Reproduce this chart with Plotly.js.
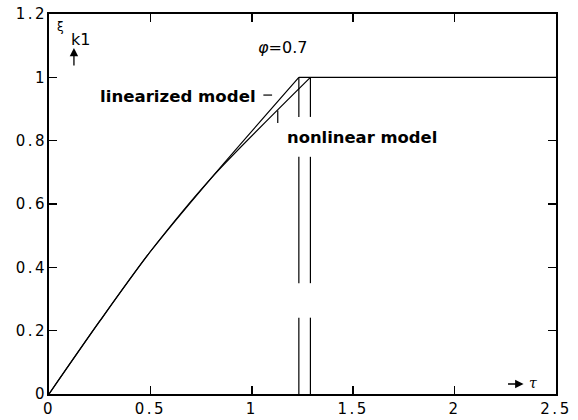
<!DOCTYPE html>
<html>
<head>
<meta charset="utf-8">
<script src="https://cdn.plot.ly/plotly-3.0.1.min.js"></script>
<style>
  html, body { margin: 0; padding: 0; background: #fff; }
  #chart { width: 578px; height: 420px; }
  #chart .xtick text, #chart .ytick text { letter-spacing: 2.5px; }
</style>
</head>
<body>
<div id="chart"></div>
<script>
// Step response of the state variable xi_k1 for phi = 0.7
const tauLinearized = [0, 0.25, 0.5, 0.8, 1.232];
const xiLinearized  = [0, 0.23, 0.45, 0.682, 1.0];

const tauNonlinear = [0, 0.25, 0.5, 0.8, 1.289];
const xiNonlinear  = [0, 0.23, 0.45, 0.682, 1.0];

// Saturated level after the switching instant
const tauEnd = 2.5;
const xiSaturated = 1.0;

// Switching instants (broken vertical markers)
const switchLinearized = 1.232;
const switchNonlinear  = 1.289;
const switchSegments   = [1.0, 0.875, null, 0.749, 0.35, null, 0.241, 0];

// Leader lines from the labels to the curves
const leaderLinX = [1.057, 1.1];
const leaderLinY = [0.944, 0.944];
const leaderNonX = [1.128, 1.128];
const leaderNonY = [0.895, 0.856];

const xTicks = [0, 0.5, 1, 1.5, 2, 2.5];
const yTicks = [0, 0.2, 0.4, 0.6, 0.8, 1, 1.2];

const lineStyle = { color: '#000', width: 1.2 };
const curveStyle = { color: '#000', width: 1.2, shape: 'spline', smoothing: 0.8 };

const traces = [
  { x: tauLinearized, y: xiLinearized, mode: 'lines', line: curveStyle },
  { x: tauNonlinear, y: xiNonlinear, mode: 'lines', line: curveStyle },
  { x: [switchLinearized, tauEnd], y: [xiSaturated, xiSaturated], mode: 'lines', line: lineStyle },
  { x: switchSegments.map(v => v === null ? null : switchLinearized), y: switchSegments,
    mode: 'lines', line: lineStyle, connectgaps: false },
  { x: switchSegments.map(v => v === null ? null : switchNonlinear), y: switchSegments,
    mode: 'lines', line: lineStyle, connectgaps: false },
  { x: leaderLinX, y: leaderLinY, mode: 'lines', line: lineStyle },
  { x: leaderNonX, y: leaderNonY, mode: 'lines', line: lineStyle }
];

const axisCommon = {
  showgrid: false,
  zeroline: false,
  showline: true,
  linecolor: '#000',
  linewidth: 2,
  mirror: 'ticks',
  ticks: 'inside',
  ticklen: 8,
  tickwidth: 1.5,
  tickcolor: '#000',
  tickfont: { family: 'DejaVu Sans, sans-serif', size: 15, color: '#000' }
};

const layout = {
  width: 578,
  height: 420,
  margin: { l: 49, r: 22, t: 14, b: 26 },
  paper_bgcolor: '#fff',
  plot_bgcolor: '#fff',
  showlegend: false,
  xaxis: Object.assign({}, axisCommon, {
    range: [0, 2.5], tickmode: 'array', tickvals: xTicks, ticktext: xTicks.map(String)
  }),
  yaxis: Object.assign({}, axisCommon, {
    range: [0, 1.2], tickmode: 'array', tickvals: yTicks, ticktext: yTicks.map(String),
    ticklabelstandoff: -3
  }),
  annotations: [
    { x: 0.638, y: 0.938, xref: 'x', yref: 'y', showarrow: false,
      text: '<b>linearized model</b>',
      font: { family: 'DejaVu Sans, sans-serif', size: 16.6, color: '#000' } },
    { x: 1.542, y: 0.811, xref: 'x', yref: 'y', showarrow: false,
      text: '<b>nonlinear model</b>',
      font: { family: 'DejaVu Sans, sans-serif', size: 16.4, color: '#000' } },
    { x: 1.15, y: 1.093, xref: 'x', yref: 'y', showarrow: false,
      text: '<i>φ</i>=0.7',
      font: { family: 'DejaVu Sans, sans-serif', size: 16, color: '#000' } },
    { x: 0.059, y: 1.158, xref: 'x', yref: 'y', showarrow: false,
      text: 'ξ',
      font: { family: 'DejaVu Sans, sans-serif', size: 12, color: '#000' } },
    { x: 0.155, y: 1.118, xref: 'x', yref: 'y', showarrow: false,
      text: 'k1',
      font: { family: 'DejaVu Sans, sans-serif', size: 16, color: '#000' } },
    { x: 0.123, y: 1.093, xref: 'x', yref: 'y', ax: 0.123, ay: 1.033,
      axref: 'x', ayref: 'y', text: '', showarrow: true,
      arrowhead: 2, arrowsize: 1.3, arrowwidth: 1.3, arrowcolor: '#000' },
    { x: 2.34, y: 0.0316, xref: 'x', yref: 'y', ax: 2.256, ay: 0.0316,
      axref: 'x', ayref: 'y', text: '', showarrow: true,
      arrowhead: 2, arrowsize: 1.3, arrowwidth: 1.3, arrowcolor: '#000' },
    { x: 2.387, y: 0.036, xref: 'x', yref: 'y', showarrow: false,
      text: '<i>τ</i>',
      font: { family: 'DejaVu Serif, serif', size: 14, color: '#000' } }
  ]
};

Plotly.newPlot('chart', traces, layout, { displayModeBar: false, staticPlot: true });
</script>
</body>
</html>
